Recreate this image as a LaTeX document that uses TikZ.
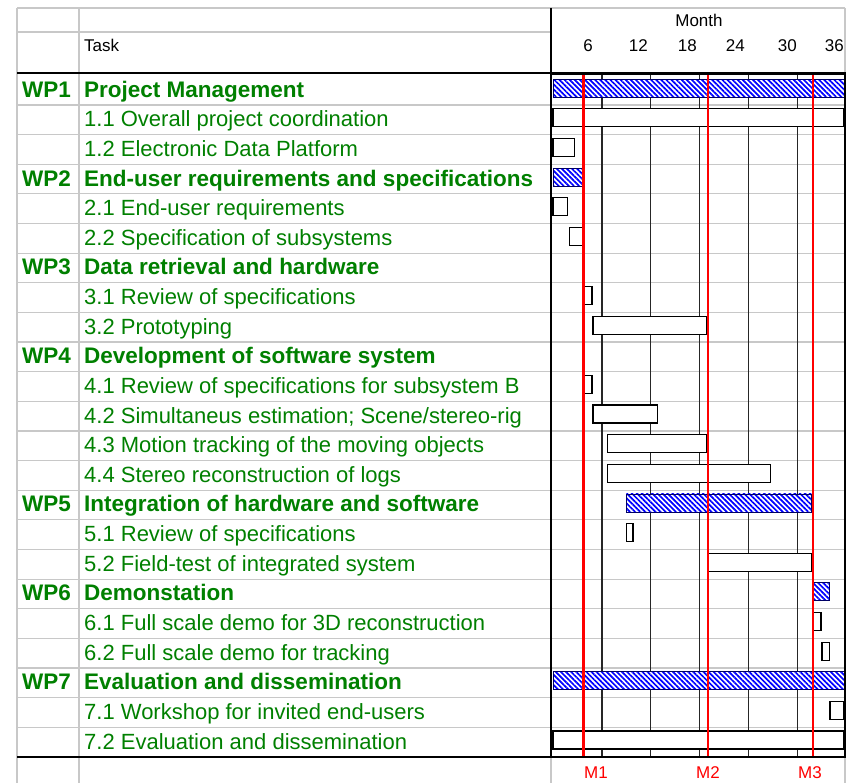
\documentclass[tikz,border=0pt]{standalone}
\usepackage{fontspec}
\setmainfont{Liberation Sans}
\usetikzlibrary{patterns.meta}
\definecolor{wpgreen}{RGB}{0,128,0}
\definecolor{rulegray}{RGB}{200,200,200}

\begin{document}
\begin{tikzpicture}[x=1pt, y=-1pt,
    rowrule/.style={draw=rulegray, line width=1.2pt},
    chartframe/.style={draw=black, line width=2.4pt},
    monthline/.style={draw=black!85, line width=1.3pt},
    milestone/.style={draw=red, line width=2.7pt},
    taskbar/.style={draw=black, line width=1.3pt, fill=white},
    wpbar/.style={draw=blue!40!black, line width=0.9pt, preaction={fill=white},
                  pattern={Lines[angle=-45, distance=3.6pt, line width=1.7pt]}, pattern color=blue},
    wp/.style={anchor=base west, text=wpgreen, inner sep=0pt,
               font=\fontsize{22.5}{26}\selectfont\bfseries},
    task/.style={anchor=base west, text=wpgreen, inner sep=0pt,
                 font=\fontsize{22}{26}\selectfont},
    head/.style={anchor=base, inner sep=0pt, font=\fontsize{17}{20}\selectfont},
    mlabel/.style={anchor=base, text=red, inner sep=0pt, font=\fontsize{17}{20}\selectfont}
  ]

  \fill[white] (0,0) rectangle (852,783);
  \useasboundingbox (0,0) rectangle (852,783);

  % Table rules
  \draw[rowrule] (17,8) -- (845,8);
  \draw[rowrule] (17,32) -- (551,32);
  \draw[rowrule] (17,8) -- (17,783);
  \draw[rowrule] (79,8) -- (79,783);
  \draw[rowrule] (845,8) -- (845,73.5);
  \draw[rowrule] (551,757) -- (551,783) (845,757) -- (845,783);
  \foreach \y in {105.0,134.7,164.3,193.9,223.6,253.2,282.8,312.4,342.1,371.7,401.3,
                  431.0,460.6,490.2,519.9,549.5,579.1,608.7,638.4,668.0,697.6,727.3}
    \draw[rowrule] (17,\y) -- (845,\y);
  \draw[line width=2pt] (17,73.5) -- (845,73.5);
  \draw[line width=2pt] (17,757) -- (845,757);
  \draw[line width=1.2pt] (551,8) -- (551,73.5);

  % Header
  \node[head] (month) at (699,26.5) {Month};
  \node[head, anchor=base west] (taskhead) at (84,51.5) {Task};
  \node[head, anchor=base east] (n6) at (593,51.5) {6};
  \node[head, anchor=base east] (n12) at (648,51.5) {12};
  \node[head, anchor=base east] (n18) at (697,51.5) {18};
  \node[head, anchor=base east] (n24) at (745,51.5) {24};
  \node[head, anchor=base east] (n30) at (797,51.5) {30};
  \node[head, anchor=base east] (n36) at (844,51.5) {36};

  % Work packages and tasks
  \node[wp] (wp1) at (22,97.2) {WP1};
  \node[wp] (wp1t) at (84,97.2) {Project Management};
  \node[task] (t11) at (84,126.8) {1.1 Overall project coordination};
  \node[task] (t12) at (84,156.5) {1.2 Electronic Data Platform};
  \node[wp] (wp2) at (22,186.1) {WP2};
  \node[wp] (wp2t) at (84,186.1) {End-user requirements and specifications};
  \node[task] (t21) at (84,215.7) {2.1 End-user requirements};
  \node[task] (t22) at (84,245.4) {2.2 Specification of subsystems};
  \node[wp] (wp3) at (22,275.0) {WP3};
  \node[wp] (wp3t) at (84,275.0) {Data retrieval and hardware};
  \node[task] (t31) at (84,304.6) {3.1 Review of specifications};
  \node[task] (t32) at (84,334.3) {3.2 Prototyping};
  \node[wp] (wp4) at (22,363.9) {WP4};
  \node[wp] (wp4t) at (84,363.9) {Development of software system};
  \node[task] (t41) at (84,393.5) {4.1 Review of specifications for subsystem B};
  \node[task] (t42) at (84,423.1) {4.2 Simultaneus estimation; Scene/stereo-rig};
  \node[task] (t43) at (84,452.8) {4.3 Motion tracking of the moving objects};
  \node[task] (t44) at (84,482.4) {4.4 Stereo reconstruction of logs};
  \node[wp] (wp5) at (22,512.0) {WP5};
  \node[wp] (wp5t) at (84,512.0) {Integration of hardware and software};
  \node[task] (t51) at (84,541.7) {5.1 Review of specifications};
  \node[task] (t52) at (84,571.3) {5.2 Field-test of integrated system};
  \node[wp] (wp6) at (22,600.9) {WP6};
  \node[wp] (wp6t) at (84,600.9) {Demonstation};
  \node[task] (t61) at (84,630.6) {6.1 Full scale demo for 3D reconstruction};
  \node[task] (t62) at (84,660.2) {6.2 Full scale demo for tracking};
  \node[wp] (wp7) at (22,689.8) {WP7};
  \node[wp] (wp7t) at (84,689.8) {Evaluation and dissemination};
  \node[task] (t71) at (84,719.5) {7.1 Workshop for invited end-users};
  \node[task] (t72) at (84,749.1) {7.2 Evaluation and dissemination};

  % Chart (x in months)
  \begin{scope}[shift={(553,0)}, x=8.15pt]
    \foreach \m in {6,12,...,30}
      \draw[monthline] (\m,73.5) -- (\m,757);

    \draw[wpbar] (0,79.2) rectangle (35.7,97.2);
    \draw[taskbar] (0,108.8) rectangle (35.7,126.8);
    \draw[taskbar] (0,138.5) rectangle (2.6,156.5);
    \draw[wpbar] (0,168.1) rectangle (3.6,186.1);
    \draw[taskbar] (0,197.7) rectangle (1.8,215.7);
    \draw[taskbar] (2.0,227.4) rectangle (3.7,245.4);
    \draw[taskbar] (3.9,286.6) rectangle (4.8,304.6);
    \draw[taskbar] (4.9,316.3) rectangle (18.8,334.3);
    \draw[taskbar] (3.9,375.5) rectangle (4.8,393.5);
    \draw[taskbar] (4.9,405.1) rectangle (12.8,423.1);
    \draw[taskbar] (6.7,434.8) rectangle (18.8,452.8);
    \draw[taskbar] (6.7,464.4) rectangle (26.7,482.4);
    \draw[wpbar] (9.0,494.0) rectangle (31.7,512.0);
    \draw[taskbar] (9.0,523.7) rectangle (9.8,541.7);
    \draw[taskbar] (19.0,553.3) rectangle (31.7,571.3);
    \draw[wpbar] (32.0,582.9) rectangle (33.9,600.9);
    \draw[taskbar] (32.0,612.6) rectangle (32.9,630.6);
    \draw[taskbar] (33.0,642.2) rectangle (33.9,660.2);
    \draw[wpbar] (0,671.8) rectangle (35.7,689.8);
    \draw[taskbar] (34.0,701.5) rectangle (35.7,719.5);
    \draw[taskbar] (0,731.1) rectangle (35.7,749.1);

    % Milestones
    \draw[milestone] (3.7,73.5) -- (3.7,757);
    \draw[milestone] (19.0,73.5) -- (19.0,757);
    \draw[milestone] (31.9,73.5) -- (31.9,757);

    \draw[chartframe] (-0.25,73.5) rectangle (35.83,757);
  \end{scope}

  \node[mlabel] (m1) at (596,778) {M1};
  \node[mlabel] (m2) at (708,778) {M2};
  \node[mlabel] (m3) at (810,778) {M3};

\end{tikzpicture}
\end{document}
